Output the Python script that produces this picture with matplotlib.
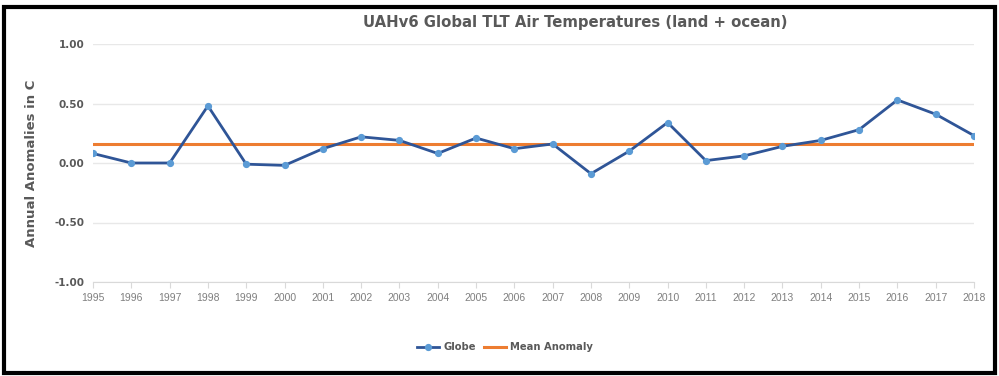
import matplotlib
matplotlib.use("Agg")
import matplotlib.pyplot as plt
from matplotlib.patches import Rectangle

# UAHv6 annual anomalies
years = list(range(1995, 2019))
globe = [0.08, 0.00, 0.00, 0.48, -0.01, -0.02, 0.12, 0.22, 0.19, 0.08, 0.21, 0.12,
         0.16, -0.09, 0.10, 0.34, 0.02, 0.06, 0.14, 0.19, 0.28, 0.53, 0.41, 0.23]
mean_anomaly = 0.16
mean_line = [mean_anomaly] * len(years)
yticks = [-1.0, -0.5, 0.0, 0.5, 1.0]

text_grey = '#595959'

fig = plt.figure(figsize=(9.99, 3.76), dpi=100)
ax = fig.add_axes([93/999, 1 - 282/376, (974 - 93)/999, (282 - 44)/376])

ax.plot(years, globe, color='#2F5597', lw=2, marker='o', markersize=4.2,
        markerfacecolor='#5B9BD5', markeredgecolor='#5B9BD5', label='Globe', zorder=3)
ax.plot(years, mean_line, color='#ED7D31', lw=2.2, label='Mean Anomaly', zorder=2)

ax.set_xlim(years[0], years[-1])
ax.set_ylim(-1.0, 1.0)
ax.set_yticks(yticks)
ax.set_yticklabels(['%.2f' % v for v in yticks], fontsize=7.5, fontweight='bold', color=text_grey)
ax.set_xticks(years)
ax.set_xticklabels([str(y) for y in years], fontsize=7.5, color='#7F7F7F', family='Liberation Sans')
ax.tick_params(axis='y', length=0, pad=6)
ax.tick_params(axis='x', length=4, color='#D9D9D9', pad=4)
ax.grid(axis='y', color='#E8E8E8', lw=1)
ax.set_axisbelow(True)
for s in ['top', 'right', 'left']:
    ax.spines[s].set_visible(False)
ax.spines['bottom'].set_color('#D9D9D9')

ax.set_ylabel('Annual Anomalies in C', fontsize=9.5, fontweight='bold', color=text_grey, labelpad=12)
fig.text(575/999, 1 - 22/376, 'UAHv6 Global TLT Air Temperatures (land + ocean)',
         ha='center', va='center', fontsize=10.7, fontweight='bold', color=text_grey)

leg = fig.legend(loc='center', bbox_to_anchor=(505/999, 1 - 347/376), ncol=2, frameon=False,
                 fontsize=7.2, handlelength=2.2, columnspacing=0.8, handletextpad=0.4)
for t in leg.get_texts():
    t.set_color(text_grey)
    t.set_fontweight('bold')

# black frame round the chart
fig.patches.append(Rectangle((3.5/999, 3.5/376), 991/999, 366/376, transform=fig.transFigure,
                             fill=False, edgecolor='black', lw=3))

fig.savefig('out.png', dpi=100)
